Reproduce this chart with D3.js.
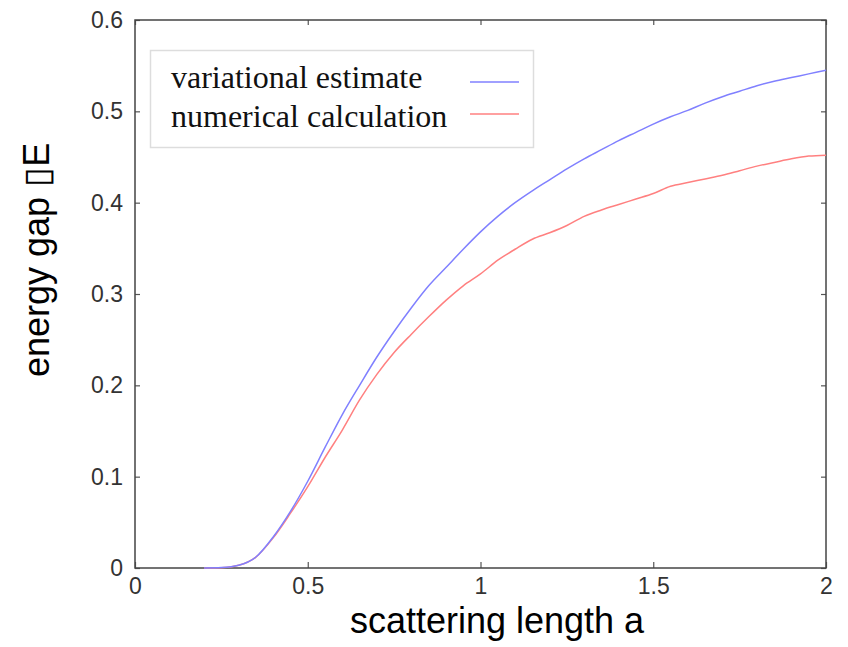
<!DOCTYPE html>
<html>
<head>
<meta charset="utf-8">
<script src="https://cdn.jsdelivr.net/npm/d3@7"></script>
<style>
  body { margin: 0; background: #fff; }
  svg { display: block; }
</style>
</head>
<body>
<svg id="chart" width="848" height="647"></svg>
<script>
// scattering length a
var aValues = [0.20, 0.25, 0.30, 0.35, 0.40, 0.45, 0.50, 0.55, 0.60, 0.65,
               0.70, 0.75, 0.80, 0.85, 0.90, 0.95, 1.00, 1.05, 1.10, 1.15,
               1.20, 1.25, 1.30, 1.35, 1.40, 1.45, 1.50, 1.55, 1.60, 1.65,
               1.70, 1.75, 1.80, 1.85, 1.90, 1.95, 2.00];

// variational estimate (blue)
var variational = [0.000, 0.0005, 0.003, 0.012, 0.034, 0.062, 0.095, 0.132, 0.168, 0.200,
                   0.231, 0.259, 0.285, 0.309, 0.329, 0.349, 0.368, 0.385, 0.400, 0.413,
                   0.425, 0.437, 0.448, 0.458, 0.468, 0.477, 0.486, 0.494, 0.501, 0.509,
                   0.516, 0.522, 0.528, 0.533, 0.537, 0.541, 0.545];

// numerical calculation (red)
var numerical = [0.000, 0.0003, 0.003, 0.012, 0.033, 0.060, 0.089, 0.121, 0.151, 0.184,
                 0.212, 0.236, 0.256, 0.275, 0.293, 0.309, 0.322, 0.337, 0.349, 0.360,
                 0.367, 0.375, 0.385, 0.392, 0.398, 0.404, 0.410, 0.418, 0.422, 0.426,
                 0.430, 0.435, 0.440, 0.444, 0.448, 0.451, 0.452];

var xTicks = [0, 0.5, 1, 1.5, 2];
var xTickLabels = ["0", "0.5", "1", "1.5", "2"];
var yTicks = [0, 0.1, 0.2, 0.3, 0.4, 0.5, 0.6];
var yTickLabels = ["0", "0.1", "0.2", "0.3", "0.4", "0.5", "0.6"];

var seriesNames = ["variational estimate", "numerical calculation"];
var seriesColors = ["#8080ff", "#ff8080"];

var plotLeft = 135, plotRight = 826, plotTop = 20, plotBottom = 568;

var svg = d3.select("#chart");

var x = d3.scaleLinear().domain([0, 2]).range([plotLeft, plotRight]);
var y = d3.scaleLinear().domain([0, 0.6]).range([plotBottom, plotTop]);

var sansFont = "'Liberation Sans', Arial, Helvetica, sans-serif";

function styleAxis(g) {
  g.select(".domain").remove();
  g.selectAll(".tick line").attr("stroke", "#555").attr("stroke-width", 1.2);
  g.selectAll(".tick text")
    .attr("fill", "#333")
    .style("font-family", sansFont)
    .style("font-size", "23px");
}

// bottom axis, ticks pointing inward
svg.append("g")
    .attr("transform", "translate(0," + plotBottom + ")")
    .call(d3.axisBottom(x).tickValues(xTicks)
      .tickFormat(function(d, i) { return xTickLabels[i]; })
      .tickSizeInner(-6).tickSizeOuter(0).tickPadding(10))
    .call(styleAxis);

svg.append("g")
    .attr("transform", "translate(" + plotLeft + ",0)")
    .call(d3.axisLeft(y).tickValues(yTicks)
      .tickFormat(function(d, i) { return yTickLabels[i]; })
      .tickSizeInner(-5).tickSizeOuter(0).tickPadding(12))
    .call(styleAxis);

// top and right axes, ticks only
svg.append("g")
    .attr("transform", "translate(0," + plotTop + ")")
    .call(d3.axisTop(x).tickValues(xTicks).tickFormat("")
      .tickSizeInner(-5).tickSizeOuter(0))
    .call(styleAxis);

svg.append("g")
    .attr("transform", "translate(" + plotRight + ",0)")
    .call(d3.axisRight(y).tickValues(yTicks).tickFormat("")
      .tickSizeInner(-5).tickSizeOuter(0))
    .call(styleAxis);

// frame
svg.append("rect")
    .attr("x", plotLeft).attr("y", plotTop)
    .attr("width", plotRight - plotLeft).attr("height", plotBottom - plotTop)
    .attr("fill", "none")
    .attr("stroke", "#444")
    .attr("stroke-width", 1.5);

// curves
var line = d3.line()
    .curve(d3.curveMonotoneX)
    .x(function(d) { return x(d[0]); })
    .y(function(d) { return y(d[1]); });

[[numerical, seriesColors[1]], [variational, seriesColors[0]]].forEach(function(s) {
  svg.append("path")
      .datum(aValues.map(function(a, i) { return [a, s[0][i]]; }))
      .attr("fill", "none")
      .attr("stroke", s[1])
      .attr("stroke-width", 1.5)
      .attr("d", line);
});

// legend
var legend = svg.append("g");
legend.append("rect")
    .attr("x", 150.5).attr("y", 50.5)
    .attr("width", 383).attr("height", 97)
    .attr("fill", "#fff")
    .attr("stroke", "#ddd")
    .attr("stroke-width", 1.5);

seriesNames.forEach(function(name, i) {
  legend.append("text")
      .attr("x", 171)
      .attr("y", 88 + i * 39)
      .style("font-family", "'Liberation Serif', 'Times New Roman', serif")
      .style("font-size", "32px")
      .attr("fill", "#111")
      .text(name);
  legend.append("line")
      .attr("x1", 470).attr("x2", 519)
      .attr("y1", 82 + i * 32).attr("y2", 82 + i * 32)
      .attr("stroke", seriesColors[i])
      .attr("stroke-width", 1.6);
});

// axis titles
svg.append("text")
    .attr("x", 497)
    .attr("y", 633)
    .attr("text-anchor", "middle")
    .style("font-family", sansFont)
    .style("font-size", "36px")
    .attr("fill", "#000")
    .text("scattering length a");

svg.append("text")
    .attr("transform", "translate(49,377) rotate(-90)")
    .attr("text-anchor", "start")
    .style("font-family", sansFont)
    .style("font-size", "36px")
    .attr("fill", "#000")
    .text("energy gap \u25AFE");
</script>
</body>
</html>
